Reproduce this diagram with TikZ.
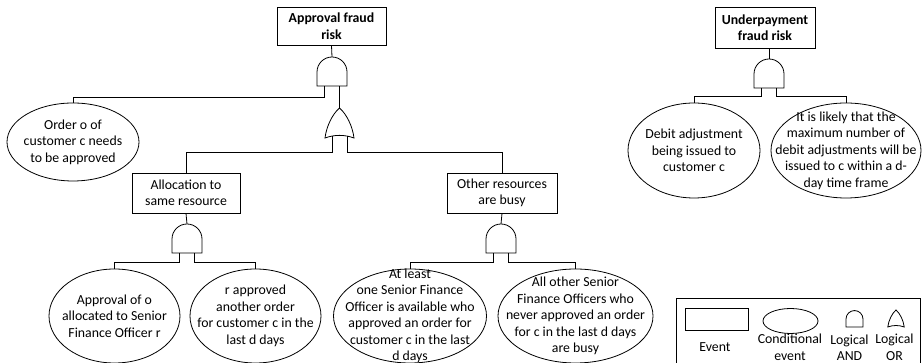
\documentclass[tikz,border=0pt]{standalone}
\usepackage{fontspec}
\setmainfont{Carlito}
\usetikzlibrary{shapes.geometric}

\begin{document}
\begin{tikzpicture}[x=1pt,y=1pt,line width=0.8pt,
    every node/.style={font=\fontsize{13.8}{16.5}\selectfont},
    event/.style={draw, rectangle, align=center, inner sep=0pt},
    condev/.style={draw, ellipse, inner sep=0pt},
    txt/.style={align=center},
    andgate/.pic={
      \draw (-15,0) -- (-15,14) arc[start angle=180,end angle=0,radius=15] -- (15,0) -- cycle;
      \coordinate (-top) at (0,29);
      \coordinate (-l) at (-7.5,0);
      \coordinate (-r) at (7.5,0);
    },
    orgate/.pic={
      \draw (-14.5,0) .. controls (-13,12) and (-7,24) .. (0,30)
        .. controls (7,24) and (13,12) .. (14.5,0)
        .. controls (5,3.5) and (-5,3.5) .. (-14.5,0) -- cycle;
      \coordinate (-top) at (0,30);
      \coordinate (-l) at (-7.5,2.3);
      \coordinate (-r) at (7.5,2.3);
    }]
    \useasboundingbox (0,0) rectangle (924,363);

    % approval fraud tree
    \node[event, minimum width=109, minimum height=38] (afr) at (331.5,337) {\textbf{Approval fraud}\\\textbf{risk}};
    \pic (gA) at (332,277) {andgate};
    \pic (gB) at (339.5,225) {orgate};
    \node[condev, minimum width=132, minimum height=78,
      label={[txt]center:{Order o of\\customer c needs\\to be approved}}] (order) at (73,221) {};
    \node[event, minimum width=108, minimum height=40] (same) at (186,170) {Allocation to\\same resource};
    \node[event, minimum width=110, minimum height=40] (other) at (502,170) {Other resources\\are busy};
    \pic (gC) at (187,110) {andgate};
    \pic (gD) at (501,110) {andgate};
    \node[condev, minimum width=131, minimum height=94,
      label={[txt]center:{Approval of o\\allocated to Senior\\Finance Officer r}}] (alloc) at (114.5,47) {};
    \node[condev, minimum width=131, minimum height=94,
      label={[txt]center:{r approved\\another order\\for customer c in the\\last d days}}] (approved) at (255.5,47) {};
    \node[condev, minimum width=153, minimum height=94,
      label={[txt]center:{At least\\one Senior Finance\\Officer is available who\\approved an order for\\customer c in the last\\d days}}] (avail) at (410,47) {};
    \node[condev, minimum width=155, minimum height=94,
      label={[txt]center:{All other Senior\\Finance Officers who\\never approved an order\\for c in the last d days\\are busy}}] (busy) at (575.5,47) {};

    \draw (afr.south) -- (gA-top);
    \draw (gA-l) -- ++(0,-11) -| (order.north);
    \draw (gA-r) -- (gB-top);
    \draw (gB-l) -- ++(0,-17) -| (same.north);
    \draw (gB-r) -- ++(0,-17) -| (other.north);
    \draw (same.south) -- (gC-top);
    \draw (gC-l) -- ++(0,-9) -| (alloc.north);
    \draw (gC-r) -- ++(0,-9) -| (approved.north);
    \draw (other.south) -- (gD-top);
    \draw (gD-l) -- ++(0,-9) -| (avail.north);
    \draw (gD-r) -- ++(0,-9) -| (busy.north);

    % underpayment fraud tree
    \node[event, minimum width=100, minimum height=41] (ufr) at (765,335.5) {\textbf{Underpayment}\\\textbf{fraud risk}};
    \pic (gE) at (769,275) {andgate};
    \node[condev, minimum width=132, minimum height=95,
      label={[txt]center:{Debit adjustment\\being issued to\\customer c}}] (debit) at (694,212.5) {};
    \node[condev, minimum width=150, minimum height=95,
      label={[txt]center:{It is likely that the\\maximum number of\\debit adjustments will be\\issued to c within a d-\\day time frame}}] (likely) at (846,212.5) {};
    \draw (gE-top) -- (gE-top |- ufr.south);
    \draw (gE-l) -- ++(0,-8) -| (debit.north);
    \draw (gE-r) -- ++(0,-8) -| (likely.north);

    % legend
    \draw (676,-5) rectangle (920,65);
    \node[event, minimum width=63, minimum height=22] (lev) at (716.5,44) {};
    \node[condev, minimum width=55, minimum height=25] (lcond) at (790.5,42) {};
    \pic[scale=0.567] (lAnd) at (854.5,36) {andgate};
    \pic[scale=0.567] (lOr) at (896,36) {orgate};
    \node[txt] (tev) at (715,16) {Event};
    \node[txt] (tcond) at (790,15.5) {Conditional\\event};
    \node[txt] (tand) at (849.5,15.5) {Logical\\AND};
    \node[txt] (tor) at (894.5,15.5) {Logical\\OR};
\end{tikzpicture}
\end{document}
